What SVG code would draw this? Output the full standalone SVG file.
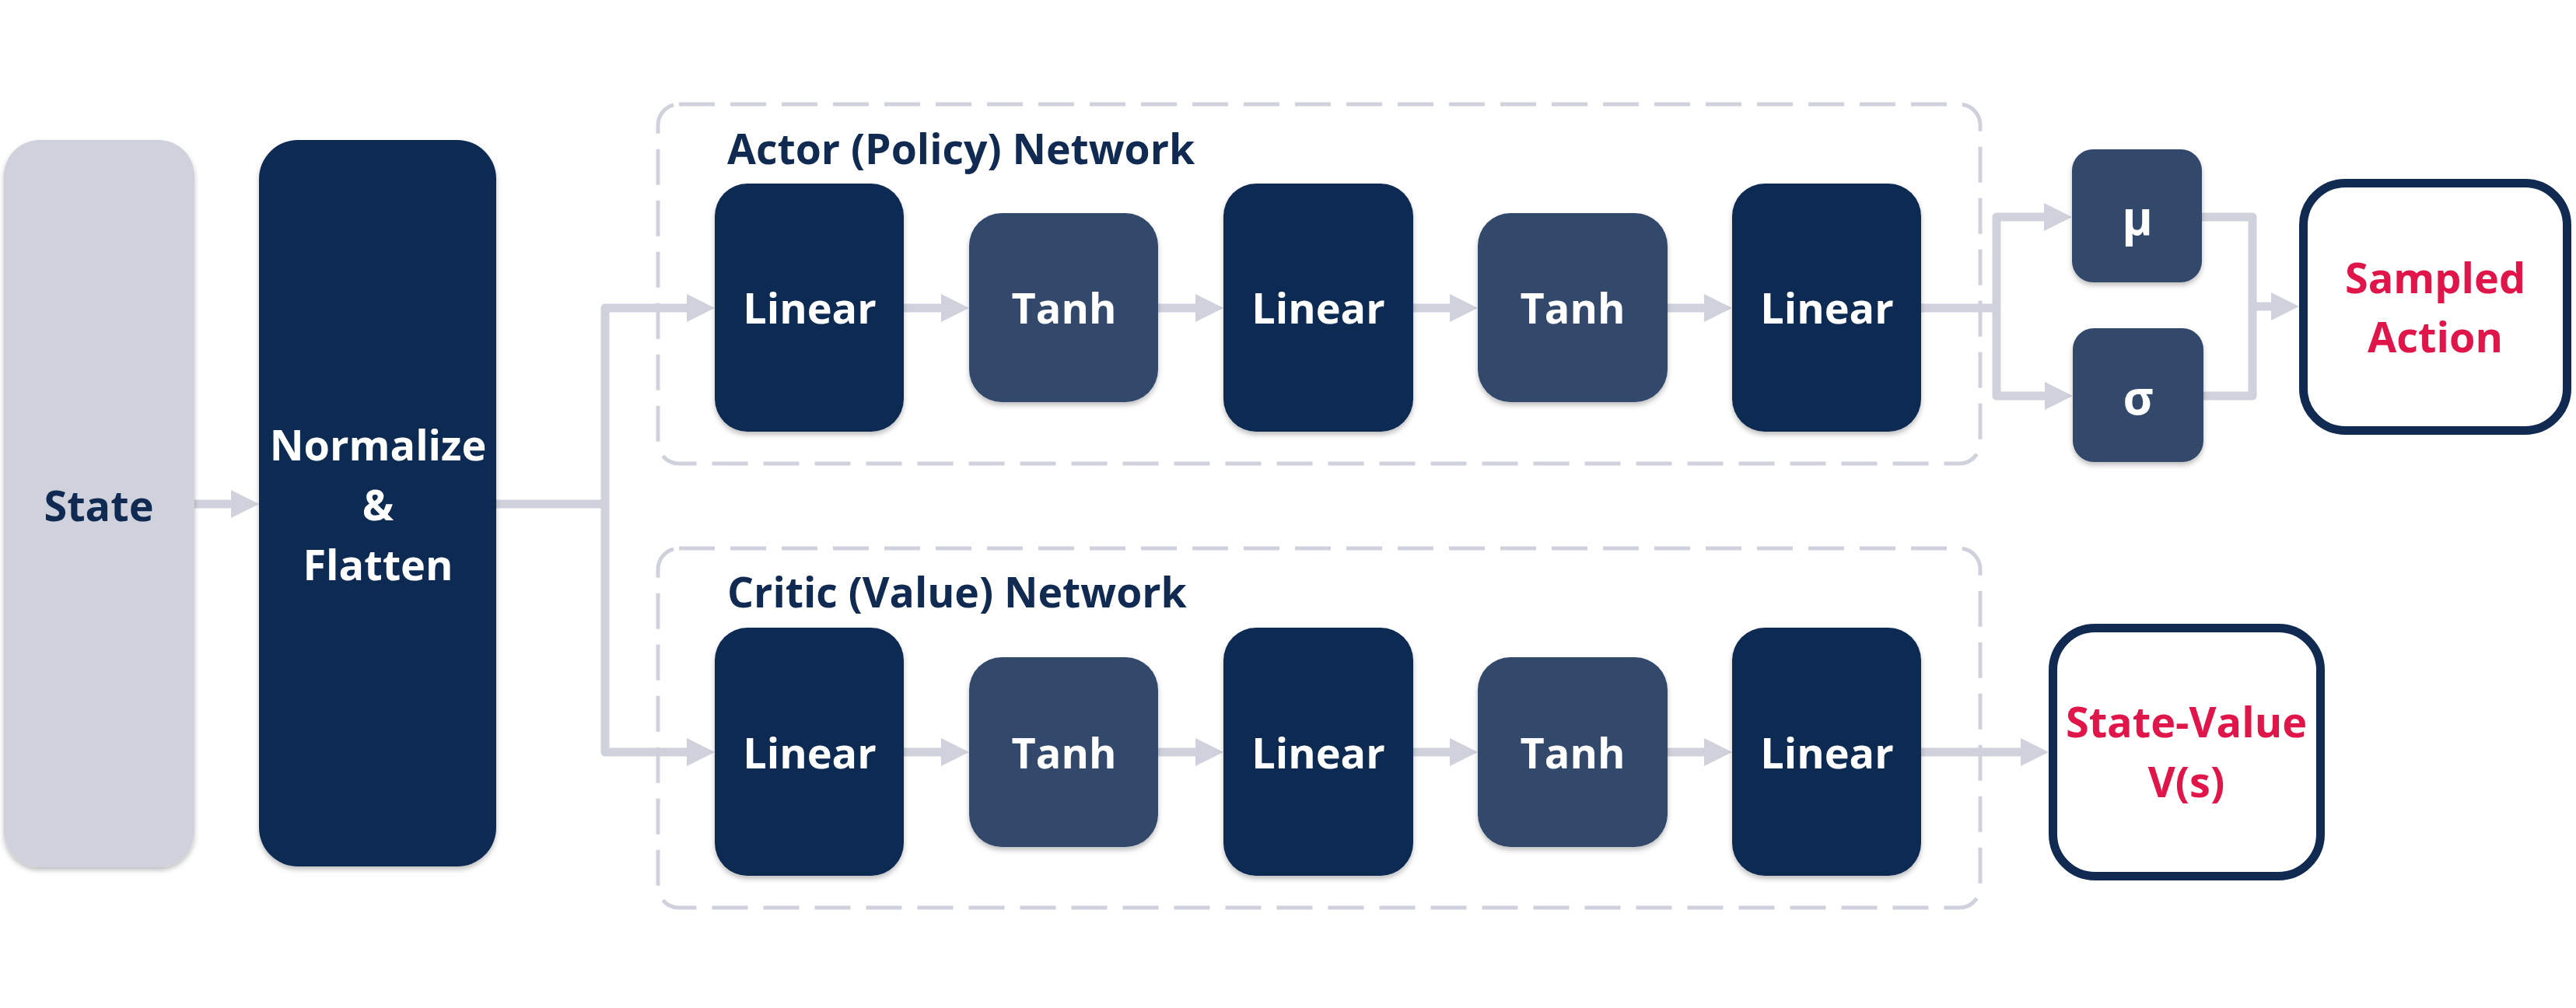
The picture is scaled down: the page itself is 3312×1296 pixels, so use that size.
<svg xmlns="http://www.w3.org/2000/svg" width="3312" height="1296" viewBox="0 0 3312 1296">
  <defs>
    <marker id="ah" markerUnits="userSpaceOnUse" markerWidth="36" markerHeight="36" viewBox="0 0 36 36" refX="0" refY="18" orient="auto">
      <path d="M0,0 L36,18 L0,36 z" fill="#CFD2DC"/>
    </marker>
    <filter id="sh" x="-10%" y="-10%" width="120%" height="125%">
      <feDropShadow dx="0" dy="4" stdDeviation="3" flood-color="#000000" flood-opacity="0.25"/>
    </filter>
    <style>
      .t { font-family: "Open Sans", "Liberation Sans", sans-serif; font-weight: 700; text-anchor: middle; }
      .w { fill: #FFFFFF; font-size: 54px; }
      .g { fill: #FFFFFF; font-size: 60px; }
      .n { fill: #102A52; font-size: 54px; }
      .r { fill: #E0164A; font-size: 54px; }
      .title { font-family: "Open Sans", "Liberation Sans", sans-serif; font-weight: 700; font-size: 53.5px; fill: #102A52; }
      .lin { fill: #102A52; filter: url(#sh); }
      .tanh { fill: #33486C; filter: url(#sh); }
      .grp { fill: none; stroke: #CFD2DC; stroke-width: 5; stroke-dasharray: 46 20; }
      .c { fill: none; stroke: #CFD2DC; stroke-width: 11; stroke-linejoin: round; }
      .out { fill: #FFFFFF; stroke: #102A52; stroke-width: 11; }
    </style>
  </defs>

  <g id="actor-group">
    <rect class="grp" x="846" y="134" width="1700" height="462" rx="27"/>
    <text class="title" x="935" y="211">Actor (Policy) Network</text>
  </g>
  <g id="critic-group">
    <rect class="grp" x="846" y="705" width="1700" height="462" rx="27"/>
    <text class="title" x="935" y="781">Critic (Value) Network</text>
  </g>

  <g id="connectors">
    <path class="c" d="M250,648 H297" marker-end="url(#ah)"/>
    <path class="c" d="M638,648 H778"/>
    <path class="c" d="M778,648 V396 H883" marker-end="url(#ah)"/>
    <path class="c" d="M778,648 V967 H883" marker-end="url(#ah)"/>

    <path class="c" d="M1162,396 H1210" marker-end="url(#ah)"/>
    <path class="c" d="M1489,396 H1537" marker-end="url(#ah)"/>
    <path class="c" d="M1817,396 H1864" marker-end="url(#ah)"/>
    <path class="c" d="M2144,396 H2191" marker-end="url(#ah)"/>

    <path class="c" d="M1162,967 H1210" marker-end="url(#ah)"/>
    <path class="c" d="M1489,967 H1537" marker-end="url(#ah)"/>
    <path class="c" d="M1817,967 H1864" marker-end="url(#ah)"/>
    <path class="c" d="M2144,967 H2191" marker-end="url(#ah)"/>

    <path class="c" d="M2470,396 H2567"/>
    <path class="c" d="M2567,396 V279 H2628" marker-end="url(#ah)"/>
    <path class="c" d="M2567,396 V509 H2629" marker-end="url(#ah)"/>
    <path class="c" d="M2831,279 H2896 V509 H2833"/>
    <path class="c" d="M2896,394 H2920" marker-end="url(#ah)"/>

    <path class="c" d="M2470,967 H2598" marker-end="url(#ah)"/>
  </g>

  <g id="state">
    <rect x="5" y="180" width="245" height="935" rx="46" fill="#CFD2DC" filter="url(#sh)"/>
    <text class="t n" x="127" y="670">State</text>
  </g>
  <g id="normalize">
    <rect class="lin" x="333" y="180" width="305" height="934" rx="50"/>
    <text class="t w" x="486" y="592">Normalize</text>
    <text class="t w" x="486" y="669">&amp;</text>
    <text class="t w" x="486" y="746">Flatten</text>
  </g>

  <g id="actor-linear1">
    <rect class="lin" x="919" y="236" width="243" height="319" rx="42"/>
    <text class="t w" x="1041" y="416">Linear</text>
  </g>
  <g id="actor-tanh1">
    <rect class="tanh" x="1246" y="274" width="243" height="243" rx="42"/>
    <text class="t w" x="1368" y="416">Tanh</text>
  </g>
  <g id="actor-linear2">
    <rect class="lin" x="1573" y="236" width="244" height="319" rx="42"/>
    <text class="t w" x="1695" y="416">Linear</text>
  </g>
  <g id="actor-tanh2">
    <rect class="tanh" x="1900" y="274" width="244" height="243" rx="42"/>
    <text class="t w" x="2022" y="416">Tanh</text>
  </g>
  <g id="actor-linear3">
    <rect class="lin" x="2227" y="236" width="243" height="319" rx="42"/>
    <text class="t w" x="2349" y="416">Linear</text>
  </g>

  <g id="mu">
    <rect class="tanh" x="2664" y="192" width="167" height="171" rx="27"/>
    <text class="t g" x="2748" y="302">μ</text>
  </g>
  <g id="sigma">
    <rect class="tanh" x="2665" y="422" width="168" height="172" rx="27"/>
    <text class="t g" x="2749" y="533">σ</text>
  </g>

  <g id="sampled-action">
    <rect class="out" x="2961.5" y="235.5" width="339" height="318" rx="54"/>
    <text class="t r" x="3131" y="377">Sampled</text>
    <text class="t r" x="3131" y="453">Action</text>
  </g>

  <g id="critic-linear1">
    <rect class="lin" x="919" y="807" width="243" height="319" rx="42"/>
    <text class="t w" x="1041" y="988">Linear</text>
  </g>
  <g id="critic-tanh1">
    <rect class="tanh" x="1246" y="845" width="243" height="244" rx="42"/>
    <text class="t w" x="1368" y="988">Tanh</text>
  </g>
  <g id="critic-linear2">
    <rect class="lin" x="1573" y="807" width="244" height="319" rx="42"/>
    <text class="t w" x="1695" y="988">Linear</text>
  </g>
  <g id="critic-tanh2">
    <rect class="tanh" x="1900" y="845" width="244" height="244" rx="42"/>
    <text class="t w" x="2022" y="988">Tanh</text>
  </g>
  <g id="critic-linear3">
    <rect class="lin" x="2227" y="807" width="243" height="319" rx="42"/>
    <text class="t w" x="2349" y="988">Linear</text>
  </g>

  <g id="state-value">
    <rect class="out" x="2639.5" y="807.5" width="344" height="319" rx="54"/>
    <text class="t r" x="2811" y="948">State-Value</text>
    <text class="t r" x="2811" y="1025">V(s)</text>
  </g>
</svg>
